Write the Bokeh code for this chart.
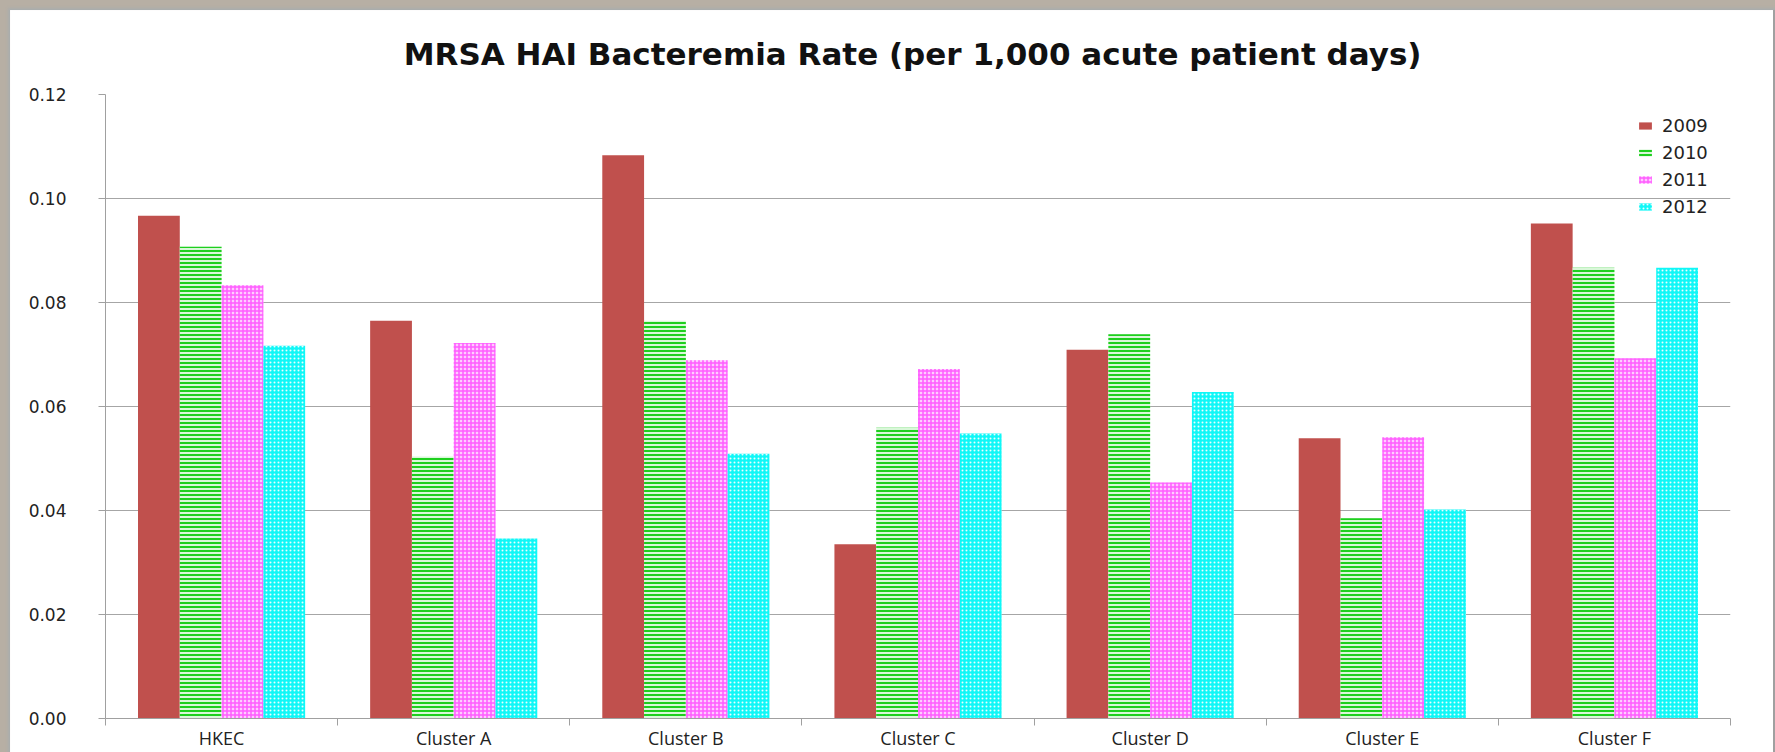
from bokeh.plotting import figure
from bokeh.models import Range1d, FixedTicker, NumeralTickFormatter, Legend, LegendItem
from bokeh.embed import file_html
from bokeh.resources import INLINE

categories = ["HKEC", "Cluster A", "Cluster B", "Cluster C", "Cluster D", "Cluster E", "Cluster F"]
years = ["2009", "2010", "2011", "2012"]
rate_2009 = [0.0967, 0.0765, 0.1083, 0.0335, 0.0709, 0.0539, 0.0952]
rate_2010 = [0.0907, 0.0504, 0.0765, 0.0559, 0.0739, 0.0385, 0.0867]
rate_2011 = [0.0833, 0.0722, 0.0689, 0.0672, 0.0454, 0.0541, 0.0693]
rate_2012 = [0.0717, 0.0346, 0.0509, 0.0548, 0.0628, 0.0402, 0.0867]
y_ticks = [0.0, 0.02, 0.04, 0.06, 0.08, 0.10, 0.12]
title_text = "MRSA HAI Bacteremia  Rate (per 1,000 acute patient days)"

series = [rate_2009, rate_2010, rate_2011, rate_2012]
styles = [
    dict(fill_color="#C0504D"),
    dict(fill_color="#d9f7d9", hatch_pattern="horizontal_line", hatch_color="#1ecf1e", hatch_scale=4, hatch_weight=2),
    dict(fill_color="#ffccff", hatch_pattern="cross", hatch_color="#ff5cff", hatch_scale=4, hatch_weight=1.5),
    dict(fill_color="#10f7f7", hatch_pattern="dot", hatch_color="#e8ffff", hatch_scale=4, hatch_weight=1.5),
]

p = figure(width=1775, height=752, output_backend="svg", toolbar_location=None,
           x_range=Range1d(0, len(categories)), y_range=Range1d(0, 0.12),
           min_border_left=105, min_border_right=45, min_border_top=94, min_border_bottom=33)
p.styles = {"background-color": "white",
            "box-shadow": "inset 8px 8px 3px #b7afa4, inset 10px 10px 0px #a9adad, inset -2px 0px 0px #a0a0a0"}

p.title.text = title_text
p.title.align = "center"
p.title.text_font = "DejaVu Sans"
p.title.text_font_style = "bold"
p.title.text_font_size = "31px"
p.title.text_color = "#111111"
p.title.standoff = 46
p.title.offset = 6

bar_w = 0.18
offsets = [-1.5 * bar_w, -0.5 * bar_w, 0.5 * bar_w, 1.5 * bar_w]
items = []
for j, (vals, st) in enumerate(zip(series, styles)):
    xs = [i + 0.5 + offsets[j] for i in range(len(categories))]
    r = p.vbar(x=xs, top=vals, width=bar_w, bottom=0, line_color=None, **st)
    items.append(LegendItem(label=years[j], renderers=[r]))

legend = Legend(items=items, location=(1532, 498))
legend.border_line_color = None
legend.background_fill_alpha = 0
legend.label_text_font = "DejaVu Sans"
legend.label_text_font_size = "18px"
legend.label_text_color = "#222222"
legend.glyph_width = 16
legend.glyph_height = 9
legend.label_height = 27
legend.spacing = 0
legend.label_standoff = 9
legend.padding = 4
legend.margin = 0
p.add_layout(legend)

# x axis: labels at centers, separator ticks at boundaries
p.xaxis.ticker = FixedTicker(ticks=[i + 0.5 for i in range(len(categories))],
                             minor_ticks=list(range(len(categories) + 1)))
p.xaxis.major_label_overrides = {i + 0.5: c for i, c in enumerate(categories)}
p.xaxis.major_tick_out = 0
p.xaxis.major_tick_in = 0
p.xaxis.minor_tick_out = 7
p.xaxis.minor_tick_in = 0
p.xaxis.minor_tick_line_color = "#a0a0a0"
p.xaxis.axis_line_color = "#a0a0a0"
p.xaxis.major_label_text_font = "Open Sans"
p.xaxis.major_label_text_font_size = "18px"
p.xaxis.major_label_text_color = "#222222"
p.xaxis.major_label_standoff = 0

p.yaxis.ticker = FixedTicker(ticks=y_ticks, minor_ticks=[])
p.yaxis.formatter = NumeralTickFormatter(format="0.00")
p.yaxis.major_tick_out = 7
p.yaxis.major_tick_in = 0
p.yaxis.major_tick_line_color = "#a0a0a0"
p.yaxis.axis_line_color = "#a0a0a0"
p.yaxis.major_label_text_font = "DejaVu Sans"
p.yaxis.major_label_text_font_size = "17px"
p.yaxis.major_label_text_color = "#222222"
p.yaxis.major_label_standoff = 32

p.xgrid.grid_line_color = None
p.ygrid.ticker = FixedTicker(ticks=y_ticks)
p.ygrid.grid_line_color = "#a6a6a6"
p.ygrid.grid_line_width = 1
p.outline_line_color = None
p.background_fill_color = "white"
p.border_fill_color = None

open("out.html", "w").write(file_html(p, INLINE))
